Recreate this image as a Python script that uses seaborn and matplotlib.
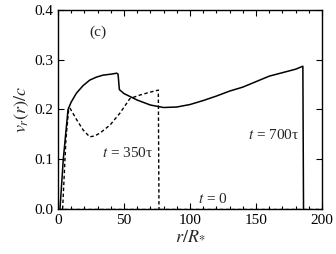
import numpy as np
import pandas as pd
import matplotlib
matplotlib.use('Agg')
import matplotlib.pyplot as plt
import seaborn as sns
from matplotlib.ticker import MultipleLocator

# Velocity profiles
r_700 = [1.5, 4, 7.6, 10, 14, 19, 24, 29, 34, 40, 44.5, 45.5, 46.5, 50, 60, 70, 80, 90,
         100, 110, 120, 130, 140, 150, 160, 170, 180, 185.5, 186]
v_700 = [0, 0.1, 0.2, 0.215, 0.233, 0.248, 0.259, 0.265, 0.269, 0.271, 0.273, 0.271,
         0.24, 0.232, 0.219, 0.209, 0.204, 0.205, 0.21, 0.218, 0.227, 0.237, 0.245,
         0.256, 0.267, 0.274, 0.281, 0.287, 0]

r_350 = [3.5, 6, 8, 9, 14, 19, 24, 28, 32, 39.5, 47, 54.5, 62, 70, 76, 76.5]
v_350 = [0, 0.14, 0.198, 0.203, 0.18, 0.159, 0.145, 0.147, 0.153, 0.169, 0.193, 0.222,
         0.229, 0.235, 0.239, 0]

r_0 = [0, 200]
v_0 = [0, 0]

sns.set_style('ticks')
plt.rcParams['font.family'] = ['Liberation Serif', 'DejaVu Serif']
plt.rcParams['mathtext.fontset'] = 'stix'

fig = plt.figure(figsize=(3.36, 2.54), dpi=100)
ax = fig.add_axes([58 / 336, 1 - 209 / 254, 264 / 336, 199 / 254])

dash = (0, (2.5, 1.8))
sns.lineplot(x=r_700, y=v_700, ax=ax, color='black', lw=1.1, sort=False)
sns.lineplot(x=r_350, y=v_350, ax=ax, color='black', lw=1.0, sort=False, linestyle=dash)
sns.lineplot(x=r_0, y=v_0, ax=ax, color='black', lw=1.0, sort=False, linestyle=dash)

ax.set_xlim(0, 200)
ax.set_ylim(0, 0.4)
ax.xaxis.set_major_locator(MultipleLocator(50))
ax.xaxis.set_minor_locator(MultipleLocator(10))
ax.yaxis.set_major_locator(MultipleLocator(0.1))
ax.tick_params(which='both', direction='in', top=True, right=True, labelsize=11, colors='black')
ax.tick_params(which='major', length=4, width=0.8)
ax.tick_params(which='minor', length=2, width=0.8)
ax.yaxis.set_major_formatter(matplotlib.ticker.FormatStrFormatter('%.1f'))
for s in ax.spines.values():
    s.set_linewidth(1.0)
    s.set_color('black')

ax.set_xlabel(r'$r/R_{*}$', fontsize=13, labelpad=0)
ax.set_ylabel(r'$v_r(r)/c$', fontsize=13, labelpad=2)

ax.text(30, 0.356, '(c)', fontsize=11, ha='center', va='center')
ax.text(53, 0.112, r'$t$ = 350τ', fontsize=11, ha='center', va='center')
ax.text(183, 0.149, r'$t$ = 700τ', fontsize=11, ha='right', va='center')
ax.text(117, 0.021, r'$t$ = 0', fontsize=11, ha='center', va='center')

fig.savefig('out.png', dpi=100)
